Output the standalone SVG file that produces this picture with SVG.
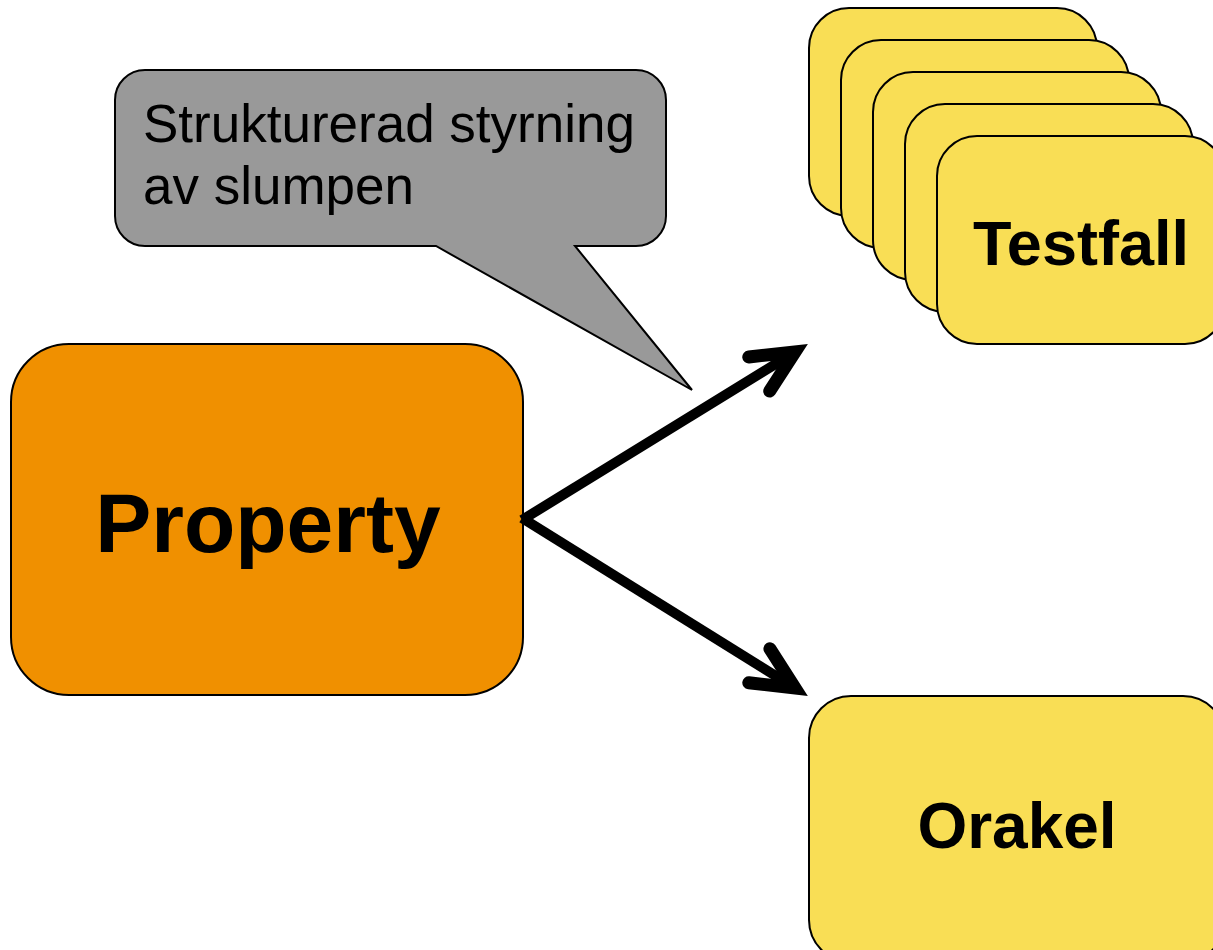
<svg xmlns="http://www.w3.org/2000/svg" width="1213" height="950" viewBox="0 0 1213 950">
  <style>
    .card { fill: #F9DE55; stroke: #000; stroke-width: 2; }
    .prop { fill: #F09000; stroke: #000; stroke-width: 2; }
    .callout { fill: #999999; stroke: #000; stroke-width: 2; stroke-linejoin: miter; }
    .lbl { font-family: "Liberation Sans", Arial, sans-serif; font-weight: bold; fill: #000; text-anchor: middle; }
    .note { font-family: "Liberation Sans", Arial, sans-serif; font-size: 53px; fill: #000; }
    .conn { stroke: #000; stroke-width: 10; fill: none; }
  </style>
  <defs>
    <marker id="chev" markerUnits="userSpaceOnUse" orient="auto" refX="0" refY="0" markerWidth="120" markerHeight="120" viewBox="-60 -60 120 120" overflow="visible">
      <path d="M-42,-20 L0,0 L-42,20" fill="none" stroke="#000" stroke-width="13" stroke-linecap="round" stroke-linejoin="miter"/>
    </marker>
  </defs>

  <g id="callout">
    <path class="callout" d="M145,70 H636 A30,30 0 0 1 666,100 V216 A30,30 0 0 1 636,246 H575 L692,390 L436,246 H145 A30,30 0 0 1 115,216 V100 A30,30 0 0 1 145,70 Z"/>
    <text class="note" x="143" y="142">Strukturerad styrning</text>
    <text class="note" x="143" y="204">av slumpen</text>
  </g>

  <g id="property">
    <rect class="prop" x="11" y="344" width="512" height="351" rx="58" ry="58"/>
    <text class="lbl" x="268" y="552" font-size="84">Property</text>
  </g>

  <g id="testfall">
    <rect class="card" x="809" y="8" width="288" height="208" rx="40" ry="40"/>
    <rect class="card" x="841" y="40" width="288" height="208" rx="40" ry="40"/>
    <rect class="card" x="873" y="72" width="288" height="208" rx="40" ry="40"/>
    <rect class="card" x="905" y="104" width="288" height="208" rx="40" ry="40"/>
    <rect class="card" x="937" y="136" width="288" height="208" rx="40" ry="40"/>
    <text class="lbl" x="1081" y="265" font-size="63">Testfall</text>
  </g>

  <g id="orakel">
    <rect class="card" x="809" y="696" width="416" height="266" rx="42" ry="42"/>
    <text class="lbl" x="1017" y="848" font-size="64">Orakel</text>
  </g>

  <g id="connectors">
    <line class="conn" x1="522" y1="520" x2="795" y2="352" marker-end="url(#chev)"/>
    <line class="conn" x1="522" y1="518" x2="795" y2="688" marker-end="url(#chev)"/>
  </g>
</svg>
